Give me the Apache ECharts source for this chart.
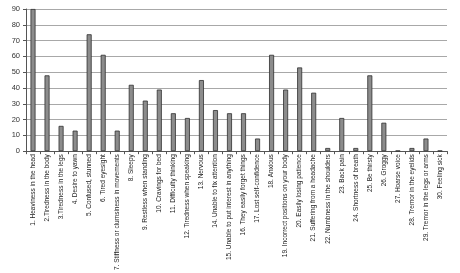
<!DOCTYPE html>
<html><head><meta charset="utf-8">
<script src="https://cdn.jsdelivr.net/npm/echarts@6/dist/echarts.min.js"></script>
<style>html,body{margin:0;padding:0;background:#fff}#c{width:460px;height:273px}</style>
</head><body><div id="c"></div>
<script>
const categories = [
 "1. Heaviness in the head","2.Tiredness in the body","3.Tiredness in the legs","4. Desire to yawn",
 "5. Confused, stunned","6. Tired eyesight","7. Stiffness or clumsiness in movements","8. Sleepy",
 "9. Restless when standing","10. Cravings for bed","11. Difficulty thinking","12. Tiredness when speaking",
 "13. Nervous","14. Unable to fix attention","15. Unable to put interest in anything","16. They easily forget things",
 "17. Lost self-confidence","18. Anxious","19. Incorrect positions on your body","20. Easily losing patience",
 "21. Suffering from a headache","22. Numbness in the shoulders","23. Back pain","24. Shortness of breath",
 "25. Be thirsty","26. Groggy","27. Hoarse voice","28. Tremor in the eyelids","29. Tremor in the legs or arms","30. Feeling sick"
];
const values = [90,48,16,13,74,61,13,42,32,39,24,21,45,26,24,24,8,61,39,53,37,2,21,2,48,18,0.3,2,8,0.3];
const yTicks = [0,10,20,30,40,50,60,70,80,90];

const chart = echarts.init(document.getElementById('c'), null, {renderer:'canvas'});
chart.setOption({
  animation:false,
  grid:{left:26,right:13,top:9,bottom:121,containLabel:false},
  xAxis:{type:'category',data:categories,
    axisLine:{show:true,lineStyle:{color:'#555',width:1}},
    axisTick:{show:true,alignWithLabel:false,lineStyle:{color:'#555'},length:3},
    axisLabel:{interval:0,rotate:90,fontSize:6.5,fontFamily:'Liberation Sans, Arial',color:'#222',margin:3}},
  yAxis:{type:'value',min:0,max:90,interval:10,
    axisLine:{show:true,lineStyle:{color:'#555'}},
    axisTick:{show:true,length:3,lineStyle:{color:'#555'}},
    splitLine:{show:true,lineStyle:{color:'#a8a8a8',width:1}},
    axisLabel:{fontSize:7.5,fontFamily:'Liberation Sans, Arial',color:'#333',margin:6,
      formatter:v=>yTicks.includes(v)?String(v):''}},
  series:[{type:'bar',data:values,barWidth:5,
    itemStyle:{color:'#8c8c8c',borderColor:'#2e2e2e',borderWidth:0.8}}]
});
</script></body></html>
